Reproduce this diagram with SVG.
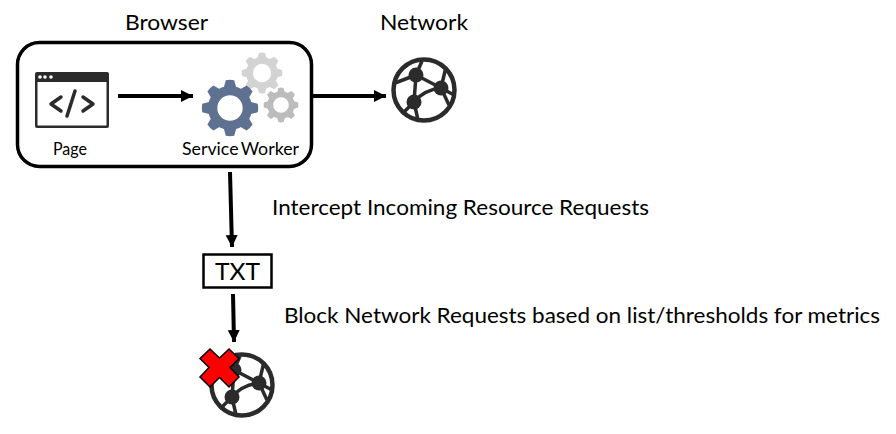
<svg xmlns="http://www.w3.org/2000/svg" width="896" height="434" viewBox="0 0 896 434">
<style>
text{font-family:"Lato","Open Sans","Liberation Sans",sans-serif;fill:#000}
.t{font-size:21px}
.h{font-size:22px}
.s{font-size:17px}
.c{stroke:#000;stroke-width:4;fill:none}
.g{fill:#2b2b2b}
</style>
<defs>
<marker id="a" markerUnits="userSpaceOnUse" markerWidth="14" markerHeight="14" refX="12" refY="6" orient="auto"><path d="M0 0L12 6L0 12Z" fill="#000"/></marker>
<g id="gear">
<circle r="74" fill="none" stroke="currentColor" stroke-width="40"/>
<g fill="currentColor">
<path id="tooth" d="M-27-85L-18-118Q0-122 18-118L27-85Z"/>
<use href="#tooth" transform="rotate(45)"/><use href="#tooth" transform="rotate(90)"/><use href="#tooth" transform="rotate(135)"/><use href="#tooth" transform="rotate(180)"/><use href="#tooth" transform="rotate(225)"/><use href="#tooth" transform="rotate(270)"/><use href="#tooth" transform="rotate(315)"/>
</g>
</g>
<g id="globe">
<circle r="30.500" fill="none" stroke="#2b2b2b" stroke-width="4.500"/>
<g fill="none" stroke="#2b2b2b" stroke-width="3.500">
<path d="M-8-15L-2-29M-8-15L-29-7M-8-15L17-2L30 5M-8-15L-10 12M-10 12C-2 2 8-1 17-2L22-23M-10 12L-22 24M-10 12L-6 30"/>
<path d="M17-2L25 15"/>
</g>
<circle class="g" cx="-8" cy="-15" r="7.500"/><circle class="g" cx="17" cy="-2" r="7.500"/><circle class="g" cx="-10" cy="12" r="7.500"/>
</g>
</defs>
<g id="browser">
<rect x="17.500" y="42.500" width="294" height="124" rx="22" fill="#fff" stroke="#000" stroke-width="3.500"/>
<text class="h" x="125" y="30" textLength="83" lengthAdjust="spacingAndGlyphs">Browser</text>
</g>
<g id="page">
<rect x="35" y="72" width="74" height="56" rx="2" fill="#2b2b2b"/>
<rect x="37.500" y="82" width="69" height="43.500" fill="#fff"/>
<g fill="#fff"><circle cx="40" cy="77" r="1.800"/><circle cx="45" cy="77" r="1.800"/><circle cx="51" cy="77" r="1.800"/></g>
<path d="M61 97L51 104L61 111M75 91L67 116M83 97L93 104L83 111" fill="none" stroke="#2b2b2b" stroke-width="3.500" stroke-linecap="round" stroke-linejoin="round"/>
<text class="s" x="53" y="155" textLength="34" lengthAdjust="spacingAndGlyphs">Page</text>
</g>
<g id="service-worker">
<use href="#gear" transform="translate(262 73) scale(.17)" color="#d3d3d3"/>
<use href="#gear" transform="translate(281 105) scale(.145)" color="#bcbcbc"/>
<use href="#gear" transform="translate(230 108) scale(.235)" color="#5f7190"/>
<text class="s" x="182" y="155" textLength="117" lengthAdjust="spacingAndGlyphs" style="word-spacing:-2px">Service Worker</text>
</g>
<g id="network">
<use href="#globe" transform="translate(424 90)"/>
<text class="h" x="380" y="30" textLength="88" lengthAdjust="spacingAndGlyphs">Network</text>
</g>
<g id="txt">
<rect x="203.500" y="254.500" width="68" height="33" fill="#fff" stroke="#000" stroke-width="2.500"/>
<text x="215" y="280" textLength="45" lengthAdjust="spacingAndGlyphs" style="font-size:24px">TXT</text>
</g>
<g id="blocked-network">
<use href="#globe" transform="translate(242 385)"/>
<path d="M210 349L219.500 358L229 349L239 358.500L230 367.500L239 377L229 387L219.500 377.500L210 387L200 377L209 367.500L200 358.500Z" fill="#f00" stroke="#000" stroke-width="1.500"/>
</g>
<g id="connectors">
<path class="c" d="M118 96H193" marker-end="url(#a)"/>
<path class="c" d="M312 96H386" marker-end="url(#a)"/>
<path class="c" d="M230 172L232 247" marker-end="url(#a)"/>
<path class="c" d="M233 294L234 342" marker-end="url(#a)"/>
</g>
<g id="labels">
<text class="t" x="272" y="215" textLength="377" lengthAdjust="spacingAndGlyphs">Intercept Incoming Resource Requests</text>
<text class="t" x="284" y="323" textLength="596" lengthAdjust="spacingAndGlyphs">Block Network Requests based on list/thresholds for metrics</text>
</g>
</svg>
